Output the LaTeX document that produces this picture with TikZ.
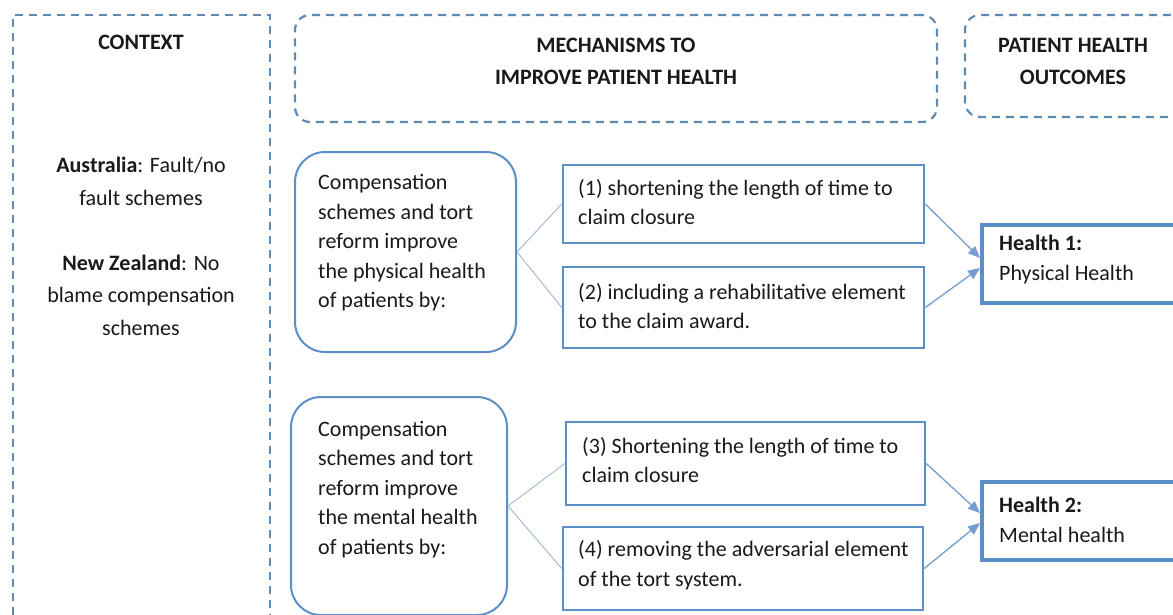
\documentclass[tikz,border=0pt]{standalone}
\usepackage{fontspec}
\setmainfont{Carlito}
\usetikzlibrary{arrows.meta,calc}
\definecolor{dashc}{RGB}{96,138,176}
\definecolor{boxc}{RGB}{90,143,200}
\definecolor{forkc}{RGB}{165,188,212}
\definecolor{arrc}{RGB}{115,158,205}
\definecolor{txt}{RGB}{25,25,25}
\begin{document}
\begin{tikzpicture}[x=1pt,y=-1pt,
  dbox/.style={draw=dashc, line width=2.2pt, dash pattern=on 8pt off 6pt, inner sep=0pt},
  rbox/.style={draw=boxc, line width=2pt, rounded corners=30pt, inner sep=0pt},
  sbox/.style={draw=boxc, line width=2.5pt, inner sep=0pt},
  hbox/.style={draw=boxc, line width=4pt, inner sep=0pt},
  body/.style={text=txt, inner sep=0pt, align=left, font=\fontsize{22}{29.5}\selectfont},
  head/.style={text=txt, inner sep=0pt, align=center, font=\bfseries\fontsize{22}{32}\selectfont},
  fork/.style={draw=forkc, line width=1pt},
  arr/.style={draw=arrc, line width=1.3pt, -{Triangle[length=12pt,width=10pt]}},
]
\useasboundingbox (0,0) rectangle (1173,614);
\clip (0,0) rectangle (1173,614);

% frames
\node[dbox, minimum width=257pt, minimum height=700pt] (ctx) at (141.5,365) {};
\node[dbox, rounded corners=15pt, minimum width=642pt, minimum height=107pt] (mech) at (616,68.5) {};
\node[dbox, rounded corners=15pt, minimum width=235pt, minimum height=102pt] (outc) at (1082.5,66) {};

% boxes
\node[rbox, minimum width=221pt, minimum height=200pt] (m1) at (405.5,252) {};
\node[rbox, minimum width=216pt, minimum height=218pt] (m2) at (399,506) {};
\node[sbox, minimum width=361pt, minimum height=78pt] (b1) at (743.5,204) {};
\node[sbox, minimum width=361pt, minimum height=81pt] (b2) at (743.5,307.5) {};
\node[sbox, minimum width=359pt, minimum height=83pt] (b3) at (745.5,463.5) {};
\node[sbox, minimum width=360pt, minimum height=83pt] (b4) at (743,568.5) {};
\node[hbox, minimum width=240pt, minimum height=78pt] (h1) at (1102,264) {};
\node[hbox, minimum width=240pt, minimum height=78pt] (h2) at (1102,521) {};

% texts
\node[head] (tctx) at (141,42) {CONTEXT};
\node[head] (tmech) at (616,61) {MECHANISMS TO\\IMPROVE PATIENT HEALTH};
\node[head] (toutc) at (1073,61) {PATIENT HEALTH\\OUTCOMES};
\node[body, align=center, font=\fontsize{22}{32.5}\selectfont] (tctxb) at (141,246.5)
  {\textbf{Australia}: Fault/no\\fault schemes\\[32.5pt]\textbf{New Zealand}: No\\blame compensation\\schemes};
\node[body, anchor=west] (tm1) at (318,243) {Compensation\\schemes and tort\\reform improve\\the physical health\\of patients by:};
\node[body, anchor=west] (tm2) at (318,489.5) {Compensation\\schemes and tort\\reform improve\\the mental health\\of patients by:};
\node[body, anchor=west] (tb1) at (578,202) {(1) shortening the length of time to\\claim closure};
\node[body, anchor=west] (tb2) at (578,306) {(2) including a rehabilitative element\\to the claim award.};
\node[body, anchor=west] (tb3) at (582,460) {(3) Shortening the length of time to\\claim closure};
\node[body, anchor=west] (tb4) at (578,565) {(4) removing the adversarial element\\of the tort system.};
\node[body, anchor=west] (th1) at (999,259.5) {\textbf{Health 1:}\\Physical Health};
\node[body, anchor=west] (th2) at (999,520) {\textbf{Health 2:}\\Mental health};

% connectors
\draw[fork] (m1.east) -- (b1.west);
\draw[fork] (m1.east) -- (b2.west);
\draw[fork] (m2.east) -- (b3.west);
\draw[fork] (m2.east) -- (b4.west);
\draw[arr] (b1.east) -- ($(h1.west)+(0,-6)$);
\draw[arr] (b2.east) -- ($(h1.west)+(0,4)$);
\draw[arr] (b3.east) -- ($(h2.west)+(0,-8)$);
\draw[arr] (b4.east) -- ($(h2.west)+(0,2)$);
\end{tikzpicture}
\end{document}
